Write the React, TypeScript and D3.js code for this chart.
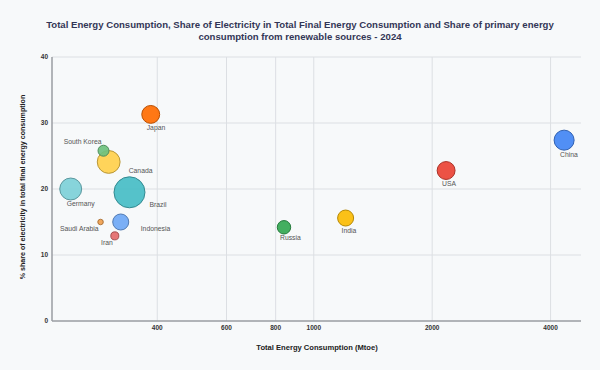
import React, { useEffect, useRef } from 'react';
import * as d3 from 'd3';

// values
const countries = ['China', 'USA', 'India', 'Russia', 'Japan', 'Brazil', 'Canada', 'South Korea', 'Germany', 'Indonesia', 'Iran', 'Saudi Arabia'];
const energy = [4330, 2170, 1205, 840, 385, 340, 301, 292, 241, 323, 312, 287];
const elecShare = [27.4, 22.8, 15.6, 14.2, 31.3, 19.5, 24.1, 25.8, 20.0, 15.0, 12.9, 15.0];
const renewShare = [20, 16, 12.8, 9, 16, 48, 26, 6, 24, 12.8, 3.2, 1.5];
const colors = ['#4285F4', '#EA4335', '#FBBC04', '#34A853', '#FF6D01', '#46BDC6', '#FFD04C', '#6CC17E', '#7DD0D8', '#6FA8F5', '#E46A6A', '#F0A04E'];
const xTicks = [400, 600, 800, 1000, 2000, 4000];
const yTicks = [0, 10, 20, 30, 40];

// label placement per country (offsets, not data)
const labelPos: Record<string, string> = {
  Canada: 'right',
  Brazil: 'right',
  Indonesia: 'right',
  'South Korea': 'aboveLeft',
  'Saudi Arabia': 'left',
  Iran: 'belowLeft',
};

const W = 600;
const H = 370;
const FONT = 'Liberation Sans, Arial, sans-serif';

export default function App() {
  const ref = useRef<SVGSVGElement>(null);

  useEffect(() => {
    const svg = d3.select(ref.current);
    svg.selectAll('*').remove();

    const margin = { top: 57, right: 19, bottom: 49, left: 52 };
    const x = d3.scaleLog().domain([216, 4780]).range([margin.left, W - margin.right]);
    const y = d3.scaleLinear().domain([0, 40]).range([H - margin.bottom, margin.top]);
    const r = d3.scaleSqrt().domain([0, d3.max(renewShare) as number]).range([0, 15.5]);

    svg.append('rect').attr('width', W).attr('height', H).attr('fill', '#F7F9FA');

    // title
    const title = svg.append('text')
      .attr('text-anchor', 'middle')
      .style('font-family', FONT)
      .style('font-weight', 'bold')
      .style('font-size', '9.6px')
      .attr('fill', '#333656');
    title.append('tspan').attr('x', W / 2).attr('y', 28)
      .text('Total Energy Consumption, Share of Electricity in Total Final Energy Consumption and Share of primary energy');
    title.append('tspan').attr('x', W / 2).attr('y', 40)
      .text('consumption from renewable sources - 2024');

    // grid
    svg.append('g').selectAll('line').data(yTicks.slice(1)).enter().append('line')
      .attr('x1', margin.left).attr('x2', W - margin.right)
      .attr('y1', (d) => y(d)).attr('y2', (d) => y(d))
      .attr('stroke', '#dcdfe3').attr('stroke-width', 1);
    svg.append('g').selectAll('line').data(xTicks).enter().append('line')
      .attr('x1', (d) => x(d)).attr('x2', (d) => x(d))
      .attr('y1', margin.top).attr('y2', H - margin.bottom)
      .attr('stroke', '#dcdfe3').attr('stroke-width', 1);

    // axes lines
    svg.append('line')
      .attr('x1', margin.left).attr('x2', margin.left)
      .attr('y1', margin.top).attr('y2', H - margin.bottom)
      .attr('stroke', '#9a9da2').attr('stroke-width', 1.5);
    svg.append('line')
      .attr('x1', margin.left).attr('x2', W - margin.right)
      .attr('y1', H - margin.bottom).attr('y2', H - margin.bottom)
      .attr('stroke', '#9a9da2').attr('stroke-width', 1.5);

    const tickStyle = (sel: any) => sel
      .style('font-family', FONT)
      .style('font-weight', 'bold')
      .style('font-size', '6.5px')
      .attr('fill', '#333');

    svg.append('g').selectAll('text').data(yTicks).enter().append('text')
      .attr('x', margin.left - 4).attr('y', (d) => y(d) + 2)
      .attr('text-anchor', 'end')
      .text((d) => d)
      .call(tickStyle);
    svg.append('g').selectAll('text').data(xTicks).enter().append('text')
      .attr('x', (d) => x(d)).attr('y', H - margin.bottom + 9)
      .attr('text-anchor', 'middle')
      .text((d) => d)
      .call(tickStyle);

    // axis titles
    svg.append('text')
      .attr('x', 317).attr('y', 350)
      .attr('text-anchor', 'middle')
      .style('font-family', FONT)
      .style('font-weight', 'bold')
      .style('font-size', '7.6px')
      .attr('fill', '#222')
      .text('Total Energy Consumption (Mtoe)');
    svg.append('text')
      .attr('transform', `translate(24.5, 187) rotate(-90)`)
      .attr('text-anchor', 'middle')
      .style('font-family', FONT)
      .style('font-weight', 'bold')
      .style('font-size', '7.1px')
      .attr('fill', '#222')
      .text('% share of electricity in total final energy consumption');

    const data = countries.map((c, i) => ({
      name: c, x: energy[i], y: elecShare[i], z: renewShare[i], color: colors[i],
    }));
    const sorted = [...data].sort((a, b) => b.z - a.z);

    svg.append('g').selectAll('circle').data(sorted).enter().append('circle')
      .attr('cx', (d) => x(d.x))
      .attr('cy', (d) => y(d.y))
      .attr('r', (d) => r(d.z))
      .attr('fill', (d) => d.color)
      .attr('fill-opacity', 0.92)
      .attr('stroke', (d) => d3.color(d.color)!.darker(0.9).toString())
      .attr('stroke-width', 1);

    svg.append('g').selectAll('text').data(data).enter().append('text')
      .attr('x', (d) => {
        const cx = x(d.x);
        const pos = labelPos[d.name];
        if (pos === 'right') return cx + 20;
        if (pos === 'left' || pos === 'aboveLeft' || pos === 'belowLeft') return cx - 2;
        return cx - 4;
      })
      .attr('y', (d) => {
        const cy = y(d.y);
        const rr = r(d.z);
        const pos = labelPos[d.name];
        if (pos === 'right') return cy + rr * 0.75 + 3;
        if (pos === 'left') return cy + 9;
        if (pos === 'aboveLeft') return cy - 7;
        if (pos === 'belowLeft') return cy + 9.5;
        return cy + rr + 6.5;
      })
      .attr('text-anchor', (d) => {
        const pos = labelPos[d.name];
        return pos === 'left' || pos === 'aboveLeft' || pos === 'belowLeft' ? 'end' : 'start';
      })
      .style('font-family', FONT)
      .style('font-size', '6.8px')
      .attr('fill', '#555')
      .text((d) => d.name);
  }, []);

  return (
    <div style={{ position: 'absolute', left: 0, top: 0 }}>
      <svg ref={ref} width={W} height={H} style={{ display: 'block' }} />
    </div>
  );
}
